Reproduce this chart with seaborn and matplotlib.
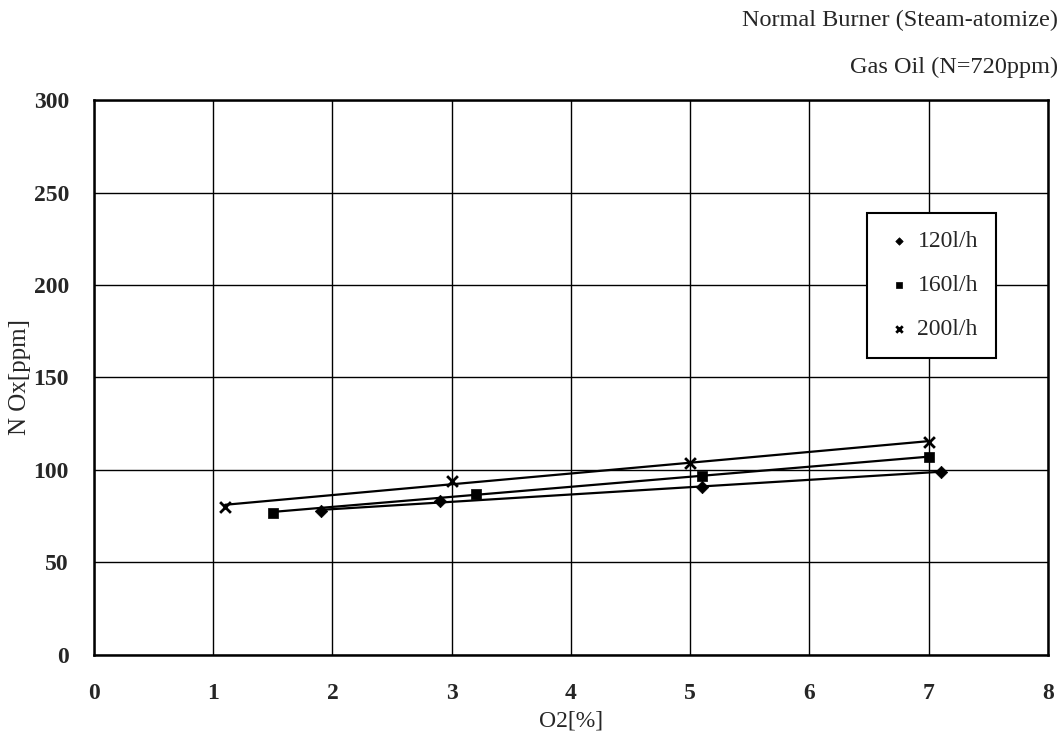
import matplotlib

matplotlib.use("Agg")
import matplotlib.pyplot as plt
import pandas as pd
import seaborn as sns

o2_120 = [1.9, 2.9, 5.1, 7.1]
nox_120 = [78, 83, 91, 99]
o2_160 = [1.5, 3.2, 5.1, 7.0]
nox_160 = [77, 87, 97, 107]
o2_200 = [1.1, 3.0, 5.0, 7.0]
nox_200 = [80, 94, 104, 115]

labels = ["120l/h", "160l/h", "200l/h"]
markers = {"120l/h": "D", "160l/h": "s", "200l/h": "x"}
x_ticks = [0, 1, 2, 3, 4, 5, 6, 7, 8]
y_ticks = [0, 50, 100, 150, 200, 250, 300]

df = pd.concat([
    pd.DataFrame({"O2": o2_120, "NOx": nox_120, "flow": labels[0]}),
    pd.DataFrame({"O2": o2_160, "NOx": nox_160, "flow": labels[1]}),
    pd.DataFrame({"O2": o2_200, "NOx": nox_200, "flow": labels[2]}),
])

sns.set_theme(style="white")
plt.rcParams["font.family"] = ["Liberation Serif", "DejaVu Serif"]

fig = plt.figure(figsize=(10.62, 7.37), dpi=100)
ax = fig.add_axes([0.0885, 0.1113, 0.8983, 0.753])

# straight fitted line per fuel flow, markers on top
for lab in labels:
    sub = df[df["flow"] == lab]
    sns.regplot(data=sub, x="O2", y="NOx", scatter=False, ci=None, truncate=True,
                color="black", line_kws={"lw": 1.6}, ax=ax)

sizes = {"120l/h": 40, "160l/h": 50, "200l/h": 60}
for lab in labels:
    sub = df[df["flow"] == lab]
    sns.scatterplot(data=sub, x="O2", y="NOx", marker=markers[lab], s=sizes[lab],
                    color="black", edgecolor="black", linewidth=2 if lab == "200l/h" else 0.5,
                    label=lab, ax=ax, zorder=4)

ax.set_xlim(0, 8)
ax.set_ylim(0, 300)
ax.set_xticks(x_ticks)
ax.set_yticks(y_ticks)
ax.tick_params(axis="both", length=0, labelsize=17)
ax.tick_params(axis="x", pad=20)
ax.tick_params(axis="y", pad=18)
for t in ax.get_xticklabels() + ax.get_yticklabels():
    t.set_fontweight("bold")

ax.grid(True, color="black", lw=1.0)
ax.set_axisbelow(True)
for s in ax.spines.values():
    s.set_color("black")
    s.set_linewidth(1.8)

ax.set_xlabel("O2[%]", fontsize=17, labelpad=5)
ax.set_ylabel("N Ox[ppm]", fontsize=18, labelpad=2)

leg = ax.legend(loc="upper left", bbox_to_anchor=(0.810, 0.796), frameon=True,
                fancybox=False, framealpha=1, edgecolor="black", fontsize=17,
                handlelength=1.2, handletextpad=0.2, labelspacing=0.95, borderpad=0.75,
                markerscale=0.6, borderaxespad=0)
leg.get_frame().set_linewidth(1.5)

fig.text(0.996, 0.972, "Normal Burner (Steam-atomize)", ha="right", va="center", fontsize=17.5)
fig.text(0.996, 0.908, "Gas Oil (N=720ppm)", ha="right", va="center", fontsize=17.5)

fig.savefig("out.png", dpi=100, facecolor="white")
